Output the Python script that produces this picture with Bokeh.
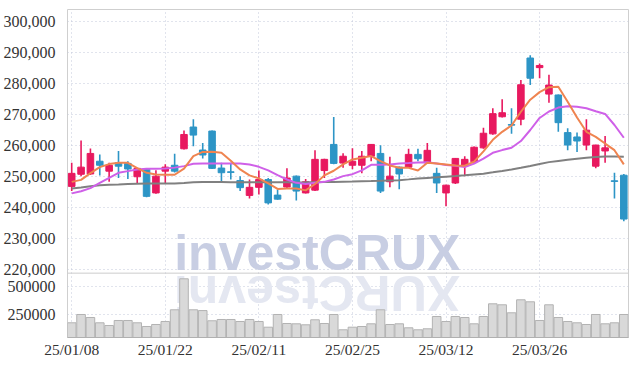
from bokeh.plotting import figure
from bokeh.models import ColumnDataSource, FixedTicker, NumeralTickFormatter, Label, Range1d, Span
from bokeh.embed import file_html
from bokeh.resources import INLINE

dates = ["25/01/08","25/01/09","25/01/10","25/01/13","25/01/14","25/01/15","25/01/16","25/01/17","25/01/20","25/01/21",
         "25/01/22","25/01/23","25/01/24","25/01/31","25/02/03","25/02/04","25/02/05","25/02/06","25/02/07","25/02/10",
         "25/02/11","25/02/12","25/02/13","25/02/14","25/02/17","25/02/18","25/02/19","25/02/20","25/02/21","25/02/24",
         "25/02/25","25/02/26","25/02/27","25/02/28","25/03/04","25/03/05","25/03/06","25/03/07","25/03/10","25/03/11",
         "25/03/12","25/03/13","25/03/14","25/03/17","25/03/18","25/03/19","25/03/20","25/03/21","25/03/24","25/03/25",
         "25/03/26","25/03/27","25/03/28","25/03/31","25/04/01","25/04/02","25/04/03","25/04/04","25/04/07","25/04/08"]

opens = [246800, 250700, 250800, 254900, 251700, 254400, 254200, 249900, 252300, 244700,
         251700, 253600, 258900, 265900, 258500, 264600, 252700, 251500, 248700, 243900,
         246500, 249000, 244000, 246600, 250100, 244700, 245600, 251900, 260300, 254300,
         253600, 253600, 256500, 257400, 248300, 253000, 253000, 257100, 254400, 251000,
         244700, 247900, 253300, 254700, 259200, 263700, 269200, 266700, 268400, 288100,
         285000, 276500, 276200, 264100, 262700, 260100, 253300, 258200, 248600, 250400]
closes = [251000, 253000, 257400, 253600, 253600, 253300, 252400, 252600, 243600, 250100,
          253000, 251700, 263500, 263300, 256900, 252600, 251200, 251300, 246400, 246500,
          249000, 241500, 242700, 249500, 245300, 248300, 255500, 255500, 254200, 256500,
          254900, 256500, 260300, 245300, 250100, 250800, 257100, 255700, 258400, 247900,
          247200, 255800, 255500, 259400, 263900, 270200, 270500, 266500, 279500, 281600,
          285700, 279400, 267300, 260100, 261400, 264900, 260100, 259200, 248400, 236300]
highs = [254400, 261600, 259000, 257100, 254400, 258200, 254900, 252800, 252600, 252000,
         253900, 257300, 264800, 268400, 260800, 264800, 254400, 254400, 250100, 249000,
         251900, 249500, 245800, 252600, 250300, 249200, 258400, 255700, 269100, 257500,
         259100, 258200, 260400, 260000, 256300, 253200, 258900, 258900, 260800, 252800,
         247300, 255900, 256500, 259600, 265700, 271900, 274800, 271900, 281000, 289000,
         286300, 282700, 276400, 265500, 264100, 268400, 260200, 263000, 251200, 250800]
lows = [245300, 250100, 250500, 250300, 248300, 249500, 249200, 247600, 243300, 244400,
        247900, 251300, 258700, 259700, 255800, 252400, 247900, 249000, 245300, 242900,
        244200, 241000, 242500, 246300, 242300, 244500, 245300, 249500, 253900, 252800,
        252300, 251000, 254900, 244700, 246500, 245900, 252800, 254900, 254200, 244700,
        240400, 247600, 250100, 254500, 258900, 263400, 269000, 263700, 266500, 279400,
        281600, 273700, 264400, 258400, 257900, 258400, 252600, 254400, 242900, 235600]
volumes = [175900, 250000, 223200, 175900, 151800, 196400, 196400, 175900, 142900, 160700,
           187500, 292000, 568800, 292000, 285000, 194000, 205400, 205400, 187500, 205400,
           187500, 136600, 250000, 169600, 166900, 158000, 202700, 169600, 250000, 113400,
           136600, 142900, 166900, 292000, 160700, 166900, 131200, 113400, 122300, 232100,
           187500, 232100, 223200, 166900, 232100, 345500, 336600, 265200, 381200, 363400,
           196400, 336600, 223200, 187500, 175900, 160700, 250000, 166900, 175900, 250000]
ma5 = [248260, 248900, 251060, 253000, 253970, 254390, 254390, 252680, 251160, 250650,
       250550, 250550, 252520, 256550, 257900, 257940, 257610, 255060, 252260, 250350,
       249390, 247770, 245970, 246130, 246130, 245520, 247580, 250350, 251840, 253870,
       255480, 256000, 256550, 254940, 253550, 252770, 252770, 251940, 254390, 254190,
       253870, 253550, 253480, 254770, 258070, 261780, 264360, 266390, 270810, 274680,
       277130, 278710, 278870, 274030, 268940, 264360, 262740, 260580, 258450, 253870]
ma20 = [244550, 245260, 246260, 247940, 249550, 251160, 251710, 252260, 252480, 252480,
        252580, 252840, 253320, 254100, 254190, 254190, 254190, 254190, 254130, 253870,
        253100, 251940, 250420, 249030, 247940, 247610, 247940, 248260, 249030, 250100,
        250740, 251970, 253740, 253740, 253870, 254130, 254290, 254480, 254550, 254130,
        253710, 253450, 253060, 254130, 255740, 257610, 258480, 259230, 261390, 264940,
        268810, 270900, 272160, 272610, 272390, 271940, 270970, 270100, 266550, 262450]
ma60 = [246130, 246480, 246870, 247190, 247350, 247450, 247580, 247680, 247710, 247740,
        247740, 247770, 247900, 248100, 248230, 248230, 248190, 248160, 248160, 248160,
        248160, 248160, 248130, 248100, 248060, 248100, 248160, 248190, 248230, 248290,
        248350, 248450, 248520, 248610, 248710, 248810, 249060, 249320, 249520, 249710,
        249940, 250160, 250390, 250650, 250900, 251320, 251770, 252260, 252770, 253390,
        254030, 254610, 255000, 255360, 255710, 256000, 256290, 256390, 256420, 256360]

price_ticks = [220000, 230000, 240000, 250000, 260000, 270000, 280000, 290000, 300000]
volume_ticks = [250000, 500000]
date_tick_idx = [0, 10, 20, 30, 40, 50]

FONT = "Liberation Sans Narrow"
RED = "#e8195f"
BLUE = "#2d95c6"
GRID = "#c3c9da"

# layout of the two stacked panels inside one frame
P_LO, P_HI = 198200, 303700          # price scale over the whole frame
V_LO, V_HI = 44600, 2973000          # volume scale over the whole frame
SPLIT = 218900                       # price value at the panel divider

def vol_to_price(v):
    return round(P_LO + (v - V_LO) / (V_HI - V_LO) * (P_HI - P_LO))

idx = list(range(len(dates)))
colors = [RED if c >= o else BLUE for o, c in zip(opens, closes)]
src = ColumnDataSource(dict(
    x=idx, high=highs, low=lows,
    top=[max(o, c) for o, c in zip(opens, closes)],
    bottom=[min(o, c) for o, c in zip(opens, closes)],
    color=colors, vol=volumes, ma5=ma5, ma20=ma20, ma60=ma60,
))

p = figure(width=637, height=366, x_range=Range1d(-0.45, 59.5), y_range=Range1d(P_LO, P_HI),
           output_backend="svg", toolbar_location=None,
           min_border_left=63, min_border_right=9, min_border_top=9, min_border_bottom=29)
p.extra_y_ranges = {"vol": Range1d(V_LO, V_HI)}
p.outline_line_color = "#cfcfcf"

vol_tick_pos = [vol_to_price(v) for v in volume_ticks]
p.yaxis.ticker = FixedTicker(ticks=price_ticks + vol_tick_pos)
p.yaxis.formatter = NumeralTickFormatter(format="0,0")
p.yaxis.major_label_overrides = {pos: str(v) for pos, v in zip(vol_tick_pos, volume_ticks)}
p.yaxis.major_label_text_font = FONT
p.yaxis.major_label_text_font_size = "16px"
p.yaxis.major_label_text_color = "#333333"
p.yaxis.axis_line_color = None
p.yaxis.major_tick_line_color = None
p.yaxis.minor_tick_line_color = None
p.yaxis.major_label_standoff = 6

p.xaxis.ticker = FixedTicker(ticks=date_tick_idx)
p.xaxis.major_label_overrides = {i: dates[i] for i in date_tick_idx}
p.xaxis.major_label_text_font = FONT
p.xaxis.major_label_text_font_size = "15.5px"
p.xaxis.major_label_text_color = "#333333"
p.xaxis.axis_line_color = "#b0b0b0"
p.xaxis.major_tick_line_color = None
p.xaxis.minor_tick_line_color = None
p.xaxis.major_label_standoff = -3

p.ygrid.grid_line_color = GRID
p.ygrid.grid_line_dash = "1 3"
p.xgrid.ticker = FixedTicker(ticks=date_tick_idx)
p.xgrid.grid_line_color = GRID
p.xgrid.grid_line_dash = "1 3"

p.add_layout(Label(x=10.95, y=225220, text="investCRUX", text_font="Liberation Sans",
                   text_font_style="bold", text_font_size="50px", text_color="#c8cee3",
                   text_baseline="alphabetic", text_align="left", level="underlay"))
p.add_layout(Label(x=41.5, y=212510, text="XURCtsevni", text_font="Liberation Sans",
                   text_font_style="bold", text_font_size="50px", text_color="#e4e7f1",
                   text_baseline="alphabetic", text_align="left", angle=3.14159265,
                   level="underlay"))

p.add_layout(Span(location=SPLIT, dimension="width", line_color="#cccccc", line_width=1))

p.vbar(x="x", width=0.92, top="vol", bottom=0, fill_color="#d9d9d9",
       line_color="#b3b3b3", line_width=1, source=src, y_range_name="vol")

p.segment(x0="x", x1="x", y0="low", y1="high", color="color", line_width=1.6, source=src)
p.vbar(x="x", width=0.7, top="top", bottom="bottom", fill_color="color",
       line_color="color", line_width=1, source=src)

p.line("x", "ma60", color="#808080", line_width=2, source=src)
p.line("x", "ma20", color="#cf60e8", line_width=2, source=src)
p.line("x", "ma5", color="#ef8450", line_width=2, source=src)

open("out.html", "w").write(file_html(p, INLINE))
